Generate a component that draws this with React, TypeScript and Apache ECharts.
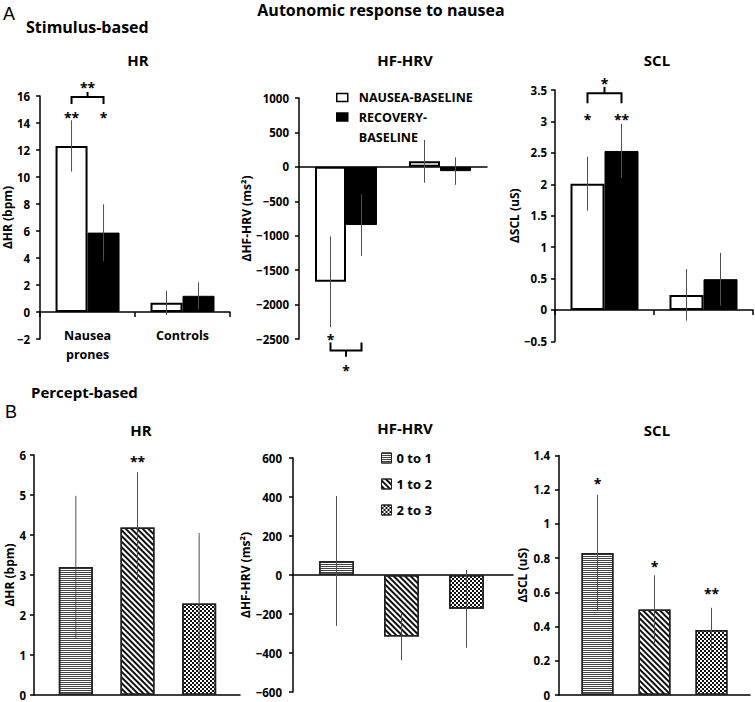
import React, { useEffect, useRef } from 'react';
import * as echarts from 'echarts';

// ---------- DATA ----------
const groupsA = ['Nausea\nprones', 'Controls'];
const seriesA = ['NAUSEA-BASELINE', 'RECOVERY-\nBASELINE'];

const hrA_nausea = [12.3, 0.68];
const hrA_nausea_err = [1.9, 0.9];
const hrA_recovery = [5.88, 1.2];
const hrA_recovery_err = [2.1, 1.0];

const hfA_nausea = [-1670, 80];
const hfA_nausea_err = [660, 310];
const hfA_recovery = [-845, -62];
const hfA_recovery_err = [450, 200];

const sclA_nausea = [2.01, 0.24];
const sclA_nausea_err = [0.43, 0.41];
const sclA_recovery = [2.53, 0.49];
const sclA_recovery_err = [0.43, 0.42];

const levelsB = ['0 to 1', '1 to 2', '2 to 3'];
const hrB = [3.2, 4.19, 2.29];
const hrB_err = [1.78, 1.38, 1.76];
const hfB = [72, -315, -173];
const hfB_err = [333, 122, 200];
const sclB = [0.83, 0.5, 0.38];
const sclB_err = [0.34, 0.2, 0.13];

// significance marks: cat = category index, slot = -1 white / 0 middle / 1 black, y = axis value
const hrA_stars = [
  { cat: 0, slot: -1, y: 14.67, text: '**' },
  { cat: 0, slot: 1, y: 14.67, text: '*' },
  { cat: 0, slot: 0, y: 16.96, text: '**' },
];
const hrA_bracket = [{ cat: 0, legY: 15.4, barY: 15.93, tickY: 16.3 }];
const hfA_stars = [
  { cat: 0, slot: -1, y: -2454, text: '*' },
  { cat: 0, slot: 0, y: -2904, text: '*' },
];
const hfA_bracket = [{ cat: 0, legY: -2552, barY: -2668, tickY: -2759 }];
const sclA_stars = [
  { cat: 0, slot: -1, y: 3.09, text: '*' },
  { cat: 0, slot: 1, y: 3.09, text: '**' },
  { cat: 0, slot: 0, y: 3.66, text: '*' },
];
const sclA_bracket = [{ cat: 0, legY: 3.29, barY: 3.45, tickY: 3.55 }];
const hrB_stars = [{ cat: 1, slot: 0, y: 5.95, text: '**' }];
const sclB_stars = [
  { cat: 0, slot: 0, y: 1.26, text: '*' },
  { cat: 1, slot: 0, y: 0.776, text: '*' },
  { cat: 2, slot: 0, y: 0.615, text: '**' },
];

// ---------- STYLE ----------
const FONT = '"Open Sans", "Liberation Sans", sans-serif';
const BLACK = '#000';
const minusFmt = (v: number) => String(v).replace('-', '\u2212');

const patternStyles = [
  {
    color: '#fff', borderColor: '#222', borderWidth: 1.5,
    decal: { symbol: 'rect', symbolSize: 1, dashArrayX: [1, 0], dashArrayY: [1, 1], rotation: 0, color: '#444' },
  },
  {
    color: '#fff', borderColor: '#222', borderWidth: 1.5,
    decal: { symbol: 'rect', symbolSize: 1, dashArrayX: [1, 0], dashArrayY: [1.2, 1.7], rotation: Math.PI / 4, color: '#111' },
  },
  {
    color: '#fff', borderColor: '#222', borderWidth: 1.5,
    decal: { symbol: 'rect', symbolSize: 1, dashArrayX: [[2, 2], [0, 2, 2, 0]], dashArrayY: [2, 0], rotation: 0, color: '#111' },
  },
];

function yAxis(grid: number, min: number, max: number, interval: number, name: string, nameGap: number, margin: number, show = true) {
  return {
    type: 'value', gridIndex: grid, min, max, interval, show,
    name, nameLocation: 'middle', nameGap,
    nameTextStyle: { fontFamily: FONT, fontWeight: 'bold', fontSize: 12, color: BLACK },
    axisLine: { show: true, onZero: false, lineStyle: { color: BLACK, width: 1.5 } },
    axisTick: { show: true, length: 4, lineStyle: { color: BLACK, width: 1.5 } },
    axisLabel: { fontFamily: FONT, fontWeight: 'bold', fontSize: 11.5, color: BLACK, margin, formatter: minusFmt },
    splitLine: { show: false },
  };
}

function xAxis(grid: number, data: string[], opts: { ticks?: boolean; labels?: boolean; show?: boolean; margin?: number } = {}) {
  return {
    type: 'category', gridIndex: grid, data, show: opts.show !== false,
    axisLine: { show: true, onZero: true, lineStyle: { color: BLACK, width: 1.5 } },
    axisTick: { show: !!opts.ticks, length: 5, inside: false, alignWithLabel: false, lineStyle: { color: BLACK, width: 1.5 } },
    axisLabel: {
      show: !!opts.labels, fontFamily: FONT, fontWeight: 'bold', fontSize: 12.5, color: BLACK,
      margin: opts.margin ?? 8, lineHeight: 19, interval: 0,
    },
    splitLine: { show: false },
  };
}

function errSeries(axis: number, means: number[], errs: number[], slot: number, bw: number) {
  return {
    type: 'custom', xAxisIndex: axis, yAxisIndex: axis, silent: true, z: 5,
    data: means.map((m, i) => [i, m, errs[i]]),
    encode: { x: 0, y: 1 },
    renderItem: (_p: any, api: any) => {
      const i = api.value(0), m = api.value(1), e = api.value(2);
      const a = api.coord([i, m + e]);
      const b = api.coord([i, m - e]);
      const x = a[0] + (slot * bw) / 2;
      return { type: 'line', shape: { x1: x, y1: a[1], x2: x, y2: b[1] }, style: { stroke: '#505050', lineWidth: 1 } };
    },
  };
}

function starSeries(axis: number, stars: { cat: number; slot: number; y: number; text: string }[], bw: number) {
  return {
    type: 'custom', xAxisIndex: axis, yAxisIndex: axis, silent: true, z: 6, clip: false,
    data: stars.map((s, i) => [s.cat, s.y, i]),
    encode: { x: 0, y: 1 },
    renderItem: (_p: any, api: any) => {
      const s = stars[api.value(2)];
      const c = api.coord([s.cat, s.y]);
      return {
        type: 'text', x: c[0] + (s.slot * bw) / 2, y: c[1] + 4,
        style: {
          text: s.text, fontFamily: FONT, fontWeight: 'bold', fontSize: 14, fill: BLACK,
          align: 'center', verticalAlign: 'middle', textAlign: 'center', textVerticalAlign: 'middle',
        },
      };
    },
  };
}

function bracketSeries(axis: number, brackets: { cat: number; legY: number; barY: number; tickY: number }[], bw: number) {
  return {
    type: 'custom', xAxisIndex: axis, yAxisIndex: axis, silent: true, z: 6, clip: false,
    data: brackets.map((b, i) => [b.cat, b.barY, i]),
    encode: { x: 0, y: 1 },
    renderItem: (_p: any, api: any) => {
      const b = brackets[api.value(2)];
      const c = api.coord([b.cat, b.barY]);
      const yLeg = api.coord([b.cat, b.legY])[1];
      const yTick = api.coord([b.cat, b.tickY])[1];
      const xW = c[0] - bw / 2;
      const xB = c[0] + bw / 2;
      return {
        type: 'group',
        children: [
          { type: 'polyline', shape: { points: [[xW, yLeg], [xW, c[1]], [xB, c[1]], [xB, yLeg]] }, style: { stroke: BLACK, lineWidth: 2, fill: 'none' } },
          { type: 'line', shape: { x1: c[0], y1: c[1], x2: c[0], y2: yTick }, style: { stroke: BLACK, lineWidth: 2 } },
        ],
      };
    },
  };
}

function pairBars(axis: number, white: number[], black: number[], bw: number) {
  return [
    {
      type: 'bar', name: seriesA[0], xAxisIndex: axis, yAxisIndex: axis, barWidth: bw, barGap: '0%',
      data: white, itemStyle: { color: '#fff', borderColor: BLACK, borderWidth: 2 },
    },
    {
      type: 'bar', name: seriesA[1], xAxisIndex: axis, yAxisIndex: axis, barWidth: bw, barGap: '0%',
      data: black, itemStyle: { color: BLACK, borderColor: BLACK, borderWidth: 1 },
    },
  ];
}

function levelBars(axis: number, values: number[], bw: number) {
  return levelsB.map((name, k) => ({
    type: 'bar', name, xAxisIndex: axis, yAxisIndex: axis, barWidth: bw, barGap: '-100%',
    data: values.map((v, i) => (i === k ? v : null)),
    itemStyle: patternStyles[k],
  }));
}

function txt(x: number, y: number, text: string, size: number, weight = 'bold', align = 'center', family = FONT) {
  return {
    type: 'text', x, y, silent: true,
    style: {
      text, fontFamily: family, fontWeight: weight, fontSize: size, fill: BLACK,
      align, verticalAlign: 'middle', textAlign: align, textVerticalAlign: 'middle',
    },
  };
}

const BW = { hrA: 32, hfA: 31, sclA: 34, hrB: 34, hfB: 35, sclB: 32 };

export default function App() {
  const ref = useRef<HTMLDivElement>(null);
  useEffect(() => {
    if (!ref.current) return;
    const chart = echarts.init(ref.current, undefined, { renderer: 'svg' });
    const legendText = { fontFamily: FONT, fontWeight: 'bold', fontSize: 12.5, color: BLACK };
    const option: any = {
      animation: false,
      backgroundColor: '#fff',
      textStyle: { fontFamily: FONT },
      grid: [
        { left: 38, top: 96, width: 192, height: 243 },          // 0 A HR
        { left: 299, top: 98, width: 188, height: 241 },         // 1 A HF
        { left: 555, top: 90, width: 198, height: 251.4 },       // 2 A SCL
        { left: 34, top: 455, width: 206, height: 240 },         // 3 B HR axis
        { left: 45, top: 455, width: 185, height: 240 },         // 4 B HR bars
        { left: 293, top: 458, width: 220, height: 234 },        // 5 B HF axis
        { left: 304, top: 458, width: 195, height: 234 },        // 6 B HF bars
        { left: 559, top: 455.5, width: 191, height: 239.5 },    // 7 B SCL axis
        { left: 569, top: 455.5, width: 171, height: 239.5 },    // 8 B SCL bars
      ],
      xAxis: [
        xAxis(0, groupsA, { ticks: true, labels: true, margin: -13 }),
        xAxis(1, groupsA, {}),
        xAxis(2, groupsA, { ticks: true }),
        xAxis(3, levelsB, {}),
        xAxis(4, levelsB, { show: false }),
        xAxis(5, levelsB, {}),
        xAxis(6, levelsB, { show: false }),
        xAxis(7, levelsB, {}),
        xAxis(8, levelsB, { show: false }),
      ],
      yAxis: [
        yAxis(0, -2, 16, 2, '\u0394HR (bpm)', 20, 10),
        yAxis(1, -2500, 1000, 500, '\u0394HF-HRV (ms\u00b2)', 41, 10),
        yAxis(2, -0.5, 3.5, 0.5, '\u0394SCL (uS)', 23, 8),
        yAxis(3, 0, 6, 1, '\u0394HR (bpm)', 14, 8),
        yAxis(4, 0, 6, 1, '', 0, 0, false),
        yAxis(5, -600, 600, 200, '\u0394HF-HRV (ms\u00b2)', 39, 11),
        yAxis(6, -600, 600, 200, '', 0, 0, false),
        yAxis(7, 0, 1.4, 0.2, '\u0394SCL (uS)', 31, 9),
        yAxis(8, 0, 1.4, 0.2, '', 0, 0, false),
      ],
      legend: [
        {
          data: [{ name: seriesA[0], textStyle: { padding: [0, 0, 0, 6] } }],
          left: 336, top: 91, orient: 'vertical', padding: 0, itemWidth: 11, itemHeight: 8, icon: 'rect',
          selectedMode: false, textStyle: legendText, itemStyle: { borderColor: BLACK, borderWidth: 1.5 },
        },
        {
          data: [{ name: seriesA[1], textStyle: { padding: [0, 0, 0, 6], lineHeight: 20 } }],
          formatter: (name: string) => '\u00a0\n' + name,
          left: 336, top: 87, orient: 'vertical', padding: 0, itemWidth: 11, itemHeight: 8, icon: 'rect',
          selectedMode: false, textStyle: legendText, itemStyle: { borderColor: BLACK, borderWidth: 1.5 },
        },
        {
          data: levelsB, left: 381, top: 451, orient: 'vertical', padding: 0, itemWidth: 10, itemHeight: 10,
          itemGap: 12, icon: 'rect', selectedMode: false,
          textStyle: { fontFamily: FONT, fontWeight: 'bold', fontSize: 13, color: BLACK, lineHeight: 14 },
          itemStyle: { borderColor: '#222', borderWidth: 1 },
        },
      ],
      graphic: [
        txt(381, 10, 'Autonomic response to nausea', 16),
        txt(3, 14, 'A', 18, 'normal', 'left', '"Liberation Sans", sans-serif'),
        txt(26, 27, 'Stimulus-based', 16, 'bold', 'left'),
        txt(138, 60, 'HR', 15),
        txt(405, 60, 'HF-HRV', 15),
        txt(657, 60, 'SCL', 15),
        txt(31, 392, 'Percept-based', 15, 'bold', 'left'),
        txt(5, 412, 'B', 18, 'normal', 'left', '"Liberation Sans", sans-serif'),
        txt(141, 430, 'HR', 15),
        txt(405, 428, 'HF-HRV', 15),
        txt(657, 430, 'SCL', 15),
      ],
      series: [
        ...pairBars(0, hrA_nausea, hrA_recovery, BW.hrA),
        errSeries(0, hrA_nausea, hrA_nausea_err, -1, BW.hrA),
        errSeries(0, hrA_recovery, hrA_recovery_err, 1, BW.hrA),
        starSeries(0, hrA_stars, BW.hrA),
        bracketSeries(0, hrA_bracket, BW.hrA),

        ...pairBars(1, hfA_nausea, hfA_recovery, BW.hfA),
        errSeries(1, hfA_nausea, hfA_nausea_err, -1, BW.hfA),
        errSeries(1, hfA_recovery, hfA_recovery_err, 1, BW.hfA),
        starSeries(1, hfA_stars, BW.hfA),
        bracketSeries(1, hfA_bracket, BW.hfA),

        ...pairBars(2, sclA_nausea, sclA_recovery, BW.sclA),
        errSeries(2, sclA_nausea, sclA_nausea_err, -1, BW.sclA),
        errSeries(2, sclA_recovery, sclA_recovery_err, 1, BW.sclA),
        starSeries(2, sclA_stars, BW.sclA),
        bracketSeries(2, sclA_bracket, BW.sclA),

        ...levelBars(4, hrB, BW.hrB),
        errSeries(4, hrB, hrB_err, 0, BW.hrB),
        starSeries(4, hrB_stars, BW.hrB),

        ...levelBars(6, hfB, BW.hfB),
        errSeries(6, hfB, hfB_err, 0, BW.hfB),

        ...levelBars(8, sclB, BW.sclB),
        errSeries(8, sclB, sclB_err, 0, BW.sclB),
        starSeries(8, sclB_stars, BW.sclB),
      ],
    };
    chart.setOption(option);
    return () => chart.dispose();
  }, []);
  return <div ref={ref} style={{ position: 'absolute', left: 0, top: 0, width: 755, height: 702 }} />;
}
